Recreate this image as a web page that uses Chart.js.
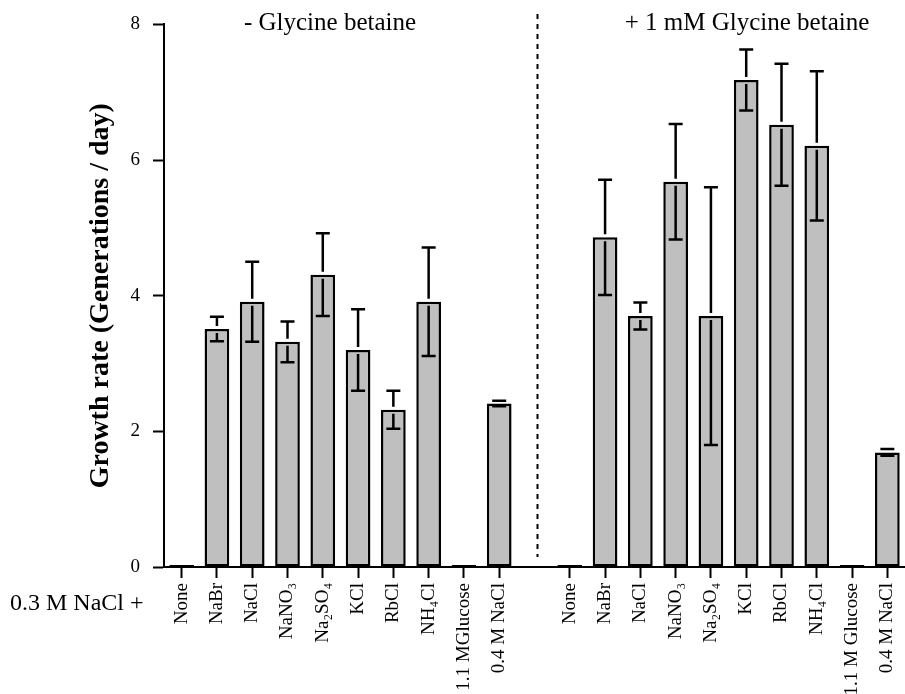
<!DOCTYPE html>
<html>
<head>
<meta charset="utf-8">
<script src="https://cdn.jsdelivr.net/npm/chart.js@4/dist/chart.umd.min.js"></script>
<style>
  body { margin: 0; background: #fff; }
  #wrap { width: 905px; height: 694px; position: relative; }
</style>
</head>
<body>
<div id="wrap"><canvas id="myChart"></canvas></div>
<script>
// categories: first group without glycine betaine, second group with 1 mM; blank slot between
const labelsMinus = ["None", "NaBr", "NaCl", "NaNO₃", "Na₂SO₄", "KCl", "RbCl", "NH₄Cl", "1.1 MGlucose", "0.4 M NaCl"];
const labelsPlus = ["None", "NaBr", "NaCl", "NaNO₃", "Na₂SO₄", "KCl", "RbCl", "NH₄Cl", "1.1 M Glucose", "0.4 M NaCl"];

// growth rate (generations / day)
const rateMinus = [0.03, 3.51, 3.91, 3.32, 4.31, 3.20, 2.32, 3.91, 0.03, 2.41];
const ratePlus = [0.03, 4.86, 3.70, 5.68, 3.70, 7.18, 6.52, 6.21, 0.03, 1.69];

// error bar half widths
const errMinus = [0, 0.18, 0.59, 0.30, 0.61, 0.60, 0.28, 0.80, 0, 0.04];
const errPlus = [0, 0.85, 0.20, 0.85, 1.90, 0.45, 0.90, 1.10, 0, 0.05];

const yTicks = [0, 2, 4, 6, 8];

const labels = labelsMinus.concat([""], labelsPlus);
const values = rateMinus.concat([null], ratePlus);
const errors = errMinus.concat([0], errPlus);
const gapIndex = labelsMinus.length;

const serif = "'Liberation Serif', 'DejaVu Serif', serif";

const extras = {
  id: "extras",
  afterDatasetsDraw(chart) {
    const ctx = chart.ctx;
    const x = chart.scales.x, y = chart.scales.y;
    ctx.save();
    ctx.strokeStyle = "#000";
    ctx.lineWidth = 2.5;
    // error bars
    values.forEach((v, i) => {
      const e = errors[i];
      if (v == null || !e) return;
      const px = x.getPixelForValue(i);
      const pTop = y.getPixelForValue(v);
      const pHi = y.getPixelForValue(v + e);
      const pLo = y.getPixelForValue(v - e);
      ctx.beginPath();
      if (pTop - pHi > 6) { ctx.moveTo(px, pTop - 3); ctx.lineTo(px, pHi); }
      ctx.moveTo(px - 7, pHi); ctx.lineTo(px + 7, pHi);
      if (pLo - pTop > 6) { ctx.moveTo(px, pTop + 4); ctx.lineTo(px, pLo); }
      ctx.moveTo(px - 7, pLo); ctx.lineTo(px + 7, pLo);
      ctx.stroke();
    });
    // dashed divider
    const gx = x.getPixelForValue(gapIndex) + 3;
    ctx.lineWidth = 2;
    ctx.setLineDash([5, 5]);
    ctx.beginPath();
    ctx.moveTo(gx, 14);
    ctx.lineTo(gx, chart.chartArea.bottom - 10);
    ctx.stroke();
    ctx.setLineDash([]);
    // texts
    ctx.fillStyle = "#000";
    ctx.font = "25px " + serif;
    ctx.textBaseline = "middle";
    ctx.textAlign = "center";
    ctx.fillText("- Glycine betaine", 330, 23);
    ctx.fillText("+ 1 mM Glycine betaine", 747, 23);
    ctx.font = "24px " + serif;
    ctx.textAlign = "left";
    ctx.fillText("0.3 M NaCl +", 10, 604);
    ctx.restore();
  }
};

new Chart(document.getElementById("myChart"), {
  type: "bar",
  data: {
    labels: labels,
    datasets: [{
      data: values,
      backgroundColor: "#bfbfbf",
      borderColor: "#000",
      borderWidth: 2.5,
      borderSkipped: false,
      barPercentage: 0.7,
      categoryPercentage: 1
    }]
  },
  options: {
    responsive: true,
    maintainAspectRatio: false,
    animation: false,
    layout: { padding: { top: 22, right: 0, left: 0, bottom: 0 } },
    plugins: { legend: { display: false }, tooltip: { enabled: false } },
    scales: {
      x: {
        grid: {
          offset: false,
          drawOnChartArea: false,
          tickLength: 11,
          tickWidth: 2,
          tickColor: (c) => (c.index === gapIndex ? "rgba(0,0,0,0)" : "#000")
        },
        border: { color: "#000", width: 2 },
        ticks: {
          color: "#000",
          font: { family: serif, size: 19 },
          minRotation: 90,
          maxRotation: 90,
          padding: 5,
          autoSkip: false
        },
        afterFit(scale) {
          scale.height = 127;
          scale.paddingRight = 0;
          scale.paddingLeft = 0;
        }
      },
      y: {
        min: 0,
        max: 8,
        afterBuildTicks(scale) { scale.ticks = yTicks.map((v) => ({ value: v })); },
        grid: { drawOnChartArea: false, tickLength: 11, tickWidth: 2, color: "#000" },
        border: { color: "#000", width: 2 },
        ticks: { color: "#000", font: { family: serif, size: 19 }, padding: 13 },
        title: {
          display: true,
          text: "Growth rate (Generations / day)",
          color: "#000",
          font: { family: serif, size: 28, weight: "bold" },
          padding: { top: 84, bottom: 0 }
        },
        afterFit(scale) { scale.width = 164; }
      }
    }
  },
  plugins: [extras]
});
</script>
</body>
</html>
